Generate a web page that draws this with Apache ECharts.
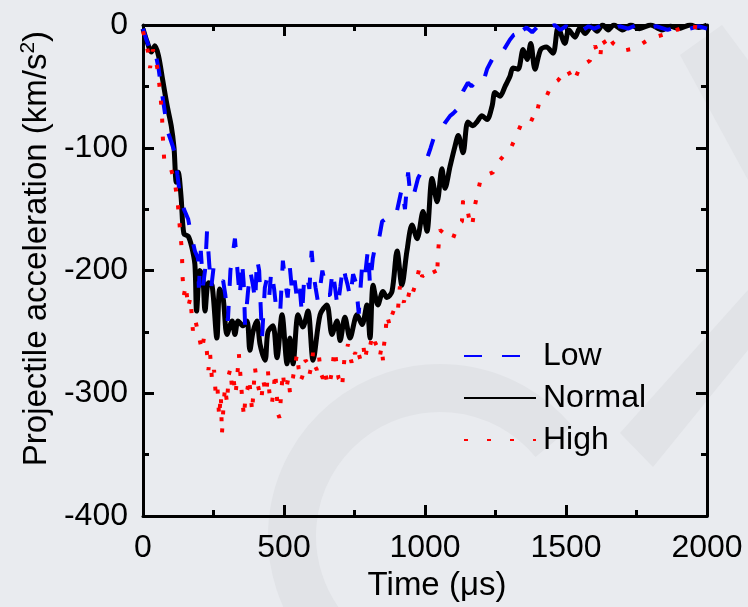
<!DOCTYPE html>
<html><head><meta charset="utf-8">
<script src="https://cdn.jsdelivr.net/npm/echarts@6/dist/echarts.min.js"></script>
<style>html,body{margin:0;padding:0;background:#e9ebef}#c{width:748px;height:607px}</style>
</head><body><div id="c"></div>
<script>
const seriesNames = ['Low', 'Normal', 'High'];
const xTicks = [0, 500, 1000, 1500, 2000];
const yTicks = [0, -100, -200, -300, -400];

const normal = [[0,-3],[15,-14],[30,-22],[42,-17],[55,-25],[70,-45],[85,-65],[100,-82],[110,-100],[118,-128],[125,-120],[135,-140],[145,-170],[160,-172],[172,-180],[184,-195],[190,-233],[202,-200],[212,-205],[220,-233],[232,-210],[245,-212],[262,-255],[272,-215],[284,-222],[298,-252],[316,-241],[326,-252],[337,-241],[355,-245],[369,-241],[379,-265],[390,-250],[404,-241],[415,-260],[433,-273],[443,-250],[461,-245],[475,-271],[493,-236],[511,-276],[521,-255],[532,-276],[550,-236],[567,-246],[585,-233],[603,-273],[628,-236],[652,-228],[670,-252],[688,-241],[699,-257],[716,-238],[734,-255],[759,-236],[777,-244],[794,-228],[805,-255],[816,-212],[833,-228],[851,-217],[865,-222],[883,-217],[901,-184],[918,-212],[936,-184],[954,-163],[972,-174],[993,-152],[1007,-168],[1025,-125],[1043,-144],[1060,-117],[1071,-133],[1089,-115],[1106,-99],[1118,-90],[1135,-104],[1152,-79],[1170,-82],[1184,-79],[1202,-74],[1220,-77],[1238,-66],[1248,-55],[1266,-58],[1284,-50],[1301,-42],[1312,-35],[1330,-36],[1348,-20],[1362,-28],[1375,-15],[1390,-36],[1410,-20],[1430,-18],[1454,-23],[1472,-2],[1496,-15],[1510,-4],[1532,-10],[1550,-2],[1568,-7],[1590,-1],[1610,-5],[1630,0],[1650,-4],[1670,0],[1700,-4],[1730,0],[1760,-3],[1800,0],[1840,-4],[1870,-1],[1900,-3],[1940,0],[1970,-2],[2000,0]];

const low = [[0,-3],[12,-12],[25,-20],[35,-26],[45,-24],[55,-35],[67,-55],[78,-72],[85,-85],[100,-95],[113,-104],[122,-122],[131,-139],[145,-150],[160,-158],[172,-172],[184,-184],[195,-190],[198,-214],[205,-184],[213,-212],[220,-200],[227,-168],[235,-195],[242,-214],[250,-198],[262,-205],[275,-210],[284,-208],[292,-220],[301,-241],[310,-200],[318,-187],[326,-174],[335,-200],[343,-222],[351,-192],[357,-210],[362,-244],[372,-218],[380,-200],[390,-212],[398,-225],[404,-190],[412,-200],[422,-255],[432,-214],[440,-206],[448,-220],[455,-200],[465,-215],[472,-230],[486,-236],[496,-192],[505,-210],[513,-222],[521,-198],[530,-220],[538,-208],[547,-225],[556,-215],[564,-236],[572,-205],[580,-203],[590,-215],[598,-184],[606,-205],[612,-214],[620,-225],[628,-214],[636,-200],[645,-210],[655,-220],[663,-220],[672,-200],[680,-212],[690,-230],[700,-213],[709,-196],[718,-205],[726,-212],[735,-222],[745,-203],[755,-210],[765,-235],[777,-196],[787,-205],[798,-182],[805,-212],[815,-190],[825,-178],[833,-179],[848,-160],[860,-158],[872,-160],[883,-155],[900,-152],[918,-133],[929,-150],[940,-120],[948,-139],[957,-141],[975,-125],[990,-118],[1007,-109],[1020,-100],[1035,-89],[1053,-87],[1070,-80],[1089,-74],[1100,-72],[1113,-69],[1125,-60],[1135,-54],[1152,-47],[1165,-50],[1177,-47],[1190,-44],[1206,-47],[1220,-36],[1238,-28],[1250,-30],[1265,-25],[1280,-20],[1301,-12],[1315,-8],[1326,-7],[1336,-12],[1348,-4],[1360,-2],[1380,-6],[1400,-1],[1420,-5],[1440,-2],[1460,0],[1480,-4],[1500,-1],[1520,-3],[1540,0],[1560,-4],[1580,-1],[1600,-3],[1630,0],[1660,-4],[1690,-1],[1720,-3],[1750,0],[1780,-3],[1820,-1],[1860,-4],[1900,-1],[1940,-3],[1970,-1],[2000,-3]];

const high = [[0,-5],[10,-14],[18,-22],[25,-35],[35,-20],[45,-28],[53,-38],[60,-53],[67,-71],[70,-90],[75,-109],[90,-112],[100,-118],[113,-128],[124,-147],[131,-166],[138,-184],[140,-204],[145,-220],[152,-212],[160,-230],[168,-222],[177,-249],[185,-240],[195,-250],[202,-249],[209,-265],[216,-255],[225,-262],[232,-281],[238,-268],[245,-290],[252,-281],[258,-301],[264,-295],[270,-319],[276,-301],[280,-333],[286,-308],[291,-295],[298,-308],[304,-285],[310,-280],[316,-297],[322,-290],[328,-301],[334,-287],[340,-268],[346,-287],[352,-305],[358,-319],[364,-301],[370,-297],[376,-288],[382,-301],[387,-315],[392,-297],[397,-279],[402,-288],[408,-287],[414,-300],[420,-305],[426,-289],[432,-296],[438,-300],[443,-281],[448,-299],[452,-305],[457,-309],[463,-297],[469,-283],[474,-300],[479,-317],[484,-320],[490,-300],[496,-283],[502,-297],[510,-294],[516,-287],[521,-299],[527,-292],[532,-287],[539,-287],[546,-268],[552,-280],[558,-290],[564,-287],[570,-282],[576,-273],[582,-275],[590,-285],[597,-278],[603,-267],[610,-278],[617,-281],[624,-270],[631,-284],[638,-288],[645,-281],[652,-290],[658,-287],[663,-291],[670,-282],[676,-270],[681,-265],[688,-281],[694,-288],[700,-290],[706,-295],[711,-280],[716,-268],[722,-265],[727,-260],[734,-270],[740,-275],[746,-265],[752,-268],[758,-262],[764,-263],[770,-272],[776,-268],[782,-262],[787,-273],[793,-265],[798,-259],[805,-262],[811,-255],[816,-252],[822,-258],[828,-261],[834,-267],[840,-270],[846,-262],[851,-273],[855,-260],[858,-255],[862,-245],[865,-236],[875,-245],[880,-238],[890,-232],[895,-228],[904,-232],[911,-213],[918,-222],[925,-226],[932,-218],[940,-222],[947,-215],[954,-220],[965,-212],[972,-206],[982,-196],[990,-205],[1000,-202],[1015,-200],[1028,-198],[1043,-205],[1046,-186],[1053,-167],[1060,-166],[1075,-171],[1090,-171],[1099,-174],[1117,-163],[1131,-160],[1135,-143],[1150,-150],[1160,-162],[1167,-164],[1177,-147],[1195,-128],[1210,-123],[1241,-120],[1259,-112],[1284,-105],[1305,-100],[1326,-89],[1348,-77],[1370,-76],[1390,-78],[1408,-60],[1433,-57],[1450,-48],[1472,-45],[1504,-36],[1528,-46],[1550,-34],[1585,-29],[1603,-17],[1621,-27],[1628,-11],[1645,-17],[1655,-11],[1667,-15],[1702,-21],[1745,-19],[1798,-11],[1858,-7],[1904,-3],[1930,-1],[1975,-2],[2000,0]];

const chart = echarts.init(document.getElementById('c'));
const FONT = 'Liberation Sans, Arial, sans-serif';
const axisCommon = {
  axisLine: {show: true, onZero: false, lineStyle: {color: '#000', width: 3}},
  axisTick: {show: true, inside: true, length: 11, lineStyle: {color: '#000', width: 3}},
  minorTick: {show: true, splitNumber: 2, length: 6, lineStyle: {color: '#000', width: 3}},
  splitLine: {show: false}
};
chart.setOption({
  backgroundColor: '#e9ebef',
  animation: false,
  textStyle: {fontFamily: FONT},
  graphic: [
    {type: 'arc', silent: true, z: -10, shape: {cx: 440, cy: 536, r: 148, startAngle: Math.PI * 0.78, endAngle: Math.PI * 1.78}, style: {stroke: '#e1e3e7', lineWidth: 48, fill: null}},
    {type: 'polygon', silent: true, z: -10, shape: {points: [[748, 290], [748, 350], [653, 467], [620, 433]]}, style: {fill: '#e1e3e7'}},
    {type: 'polygon', silent: true, z: -10, shape: {points: [[680, 55], [722, 25], [748, 60], [748, 180]]}, style: {fill: '#e2e4e8'}}
  ],
  grid: {left: 143, right: 41, top: 25, bottom: 87, containLabel: false},
  legend: {
    orient: 'vertical', left: 458, top: 334,
    data: seriesNames.map(n => n === 'High' ? {name: n, lineStyle: {type: [4, 19]}} : {name: n}),
    itemWidth: 72, itemHeight: 14, itemGap: 8,
    itemStyle: {opacity: 0},
    textStyle: {fontSize: 32, color: '#000', fontFamily: FONT, lineHeight: 34, padding: [0, 0, 0, 2]}
  },
  xAxis: [
    Object.assign({type: 'value', position: 'bottom', min: 0, max: 2000, interval: 500,
      axisLabel: {fontSize: 32, color: '#000', margin: 16, formatter: v => String(v)},
      name: 'Time (μs)', nameLocation: 'middle', nameGap: 48,
      nameTextStyle: {fontSize: 33, color: '#000', padding: [0, 0, 0, 24]}}, axisCommon),
    Object.assign({type: 'value', position: 'top', min: 0, max: 2000, interval: 500, axisLabel: {show: false}}, axisCommon)
  ],
  yAxis: [
    Object.assign({type: 'value', position: 'left', min: -400, max: 0, interval: 100,
      axisLabel: {fontSize: 32, color: '#000', margin: 15, formatter: v => String(v)},
      name: '{a|Projectile acceleration (km/s}{s|2}{a|)}', nameLocation: 'middle', nameGap: 88, nameRotate: 90,
      nameTextStyle: {padding: [0, 0, 0, 44], rich: {a: {fontSize: 33, color: '#000', fontFamily: FONT}, s: {fontSize: 21, color: '#000', fontFamily: FONT, verticalAlign: 'top', padding: [0, 0, 16, 0]}}}}, axisCommon),
    Object.assign({type: 'value', position: 'right', min: -400, max: 0, interval: 100, axisLabel: {show: false}}, axisCommon)
  ],
  series: [
    {name: 'Normal', type: 'line', data: normal, symbol: 'none', smooth: 0.3, z: 2,
      lineStyle: {color: '#000', width: 5}, itemStyle: {color: '#000'}},
    {name: 'Low', type: 'line', data: low, symbol: 'none', z: 3,
      lineStyle: {color: '#0000ff', width: 4, type: [18, 20], cap: 'butt'}, itemStyle: {color: '#0000ff'}},
    {name: 'High', type: 'line', data: high, symbol: 'none', z: 4,
      lineStyle: {color: '#ff0000', width: 4, type: [4, 14], cap: 'butt'}, itemStyle: {color: '#ff0000'}}
  ]
});
</script></body></html>
